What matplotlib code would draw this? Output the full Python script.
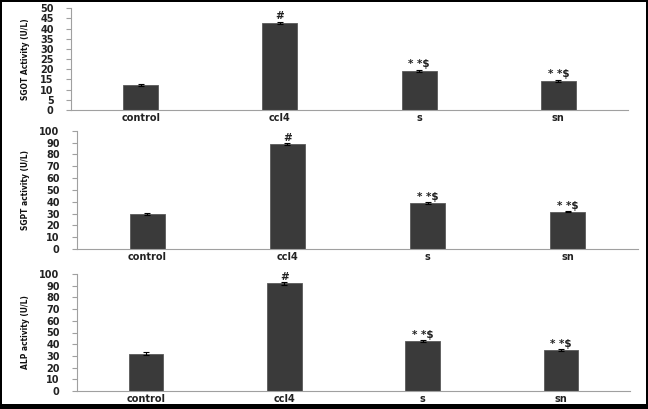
import matplotlib
matplotlib.use("Agg")
import matplotlib.pyplot as plt
from matplotlib.patches import Rectangle

categories = ["control", "ccl4", "s", "sn"]

sgot_values = [12.3, 42.9, 19.2, 14.4]
sgot_errors = [0.5, 0.6, 0.7, 0.4]
sgpt_values = [29.6, 88.5, 38.6, 31.5]
sgpt_errors = [0.5, 0.8, 0.9, 0.5]
alp_values = [32.0, 92.0, 42.5, 35.0]
alp_errors = [1.3, 1.0, 0.8, 0.7]

annotations = ["", "#", "* *$", "* *$"]

panels = [
    dict(values=sgot_values, errors=sgot_errors, ylabel="SGOT Activity (U/L)",
         ymax=50, step=5, box=(71, 628, 8.3, 110)),
    dict(values=sgpt_values, errors=sgpt_errors, ylabel="SGPT activity (U/L)",
         ymax=100, step=10, box=(77, 638, 130.7, 249)),
    dict(values=alp_values, errors=alp_errors, ylabel="ALP activity (U/L)",
         ymax=100, step=10, box=(77, 630, 274, 391)),
]

W, H = 648, 409
fig = plt.figure(figsize=(W / 100, H / 100), dpi=100)
fig.patch.set_facecolor("black")
fig.add_artist(Rectangle((2 / W, 5 / H), (646 - 2) / W, (407 - 5) / H,
                         transform=fig.transFigure, facecolor="white",
                         edgecolor="none", zorder=0))

label_font = ["Liberation Sans Narrow", "DejaVu Sans"]

for p in panels:
    l, r, t, b = p["box"]
    ax = fig.add_axes([l / W, 1 - b / H, (r - l) / W, (b - t) / H])
    ax.set_facecolor("none")
    x = list(range(len(categories)))
    ax.bar(x, p["values"], width=0.25, color="#3a3a3a", edgecolor="#5a5a5a",
           linewidth=0.6, zorder=2)
    ax.errorbar(x, p["values"], yerr=p["errors"], fmt="none", ecolor="black",
                elinewidth=0.8, capsize=2.5, capthick=0.8, zorder=3)
    for xi, v, e, a in zip(x, p["values"], p["errors"], annotations):
        if a:
            ax.text(xi, v + e + p["ymax"] * 0.005, a, ha="center", va="bottom",
                    fontsize=7.5, fontweight="bold", color="#222222")
    ax.set_xlim(-0.5, len(categories) - 0.5)
    ax.set_ylim(0, p["ymax"])
    ax.set_yticks(list(range(0, p["ymax"] + 1, p["step"])))
    ax.set_xticks(x)
    ax.set_xticklabels(categories)
    for s in ["top", "right"]:
        ax.spines[s].set_visible(False)
    for s in ["left", "bottom"]:
        ax.spines[s].set_color("#a0a0a0")
        ax.spines[s].set_linewidth(0.8)
    ax.tick_params(axis="y", length=3.5, color="#a0a0a0", labelsize=7,
                   pad=9, labelcolor="#222222")
    ax.tick_params(axis="x", length=0, labelsize=7, pad=2, labelcolor="#222222")
    for lbl in ax.get_yticklabels() + ax.get_xticklabels():
        lbl.set_fontweight("bold")
    ax.set_ylabel(p["ylabel"], fontsize=6, fontweight="bold",
                  family=label_font, fontstretch="condensed",
                  labelpad=7, color="#111111")

fig.savefig("out.png", dpi=100, facecolor=fig.get_facecolor())
